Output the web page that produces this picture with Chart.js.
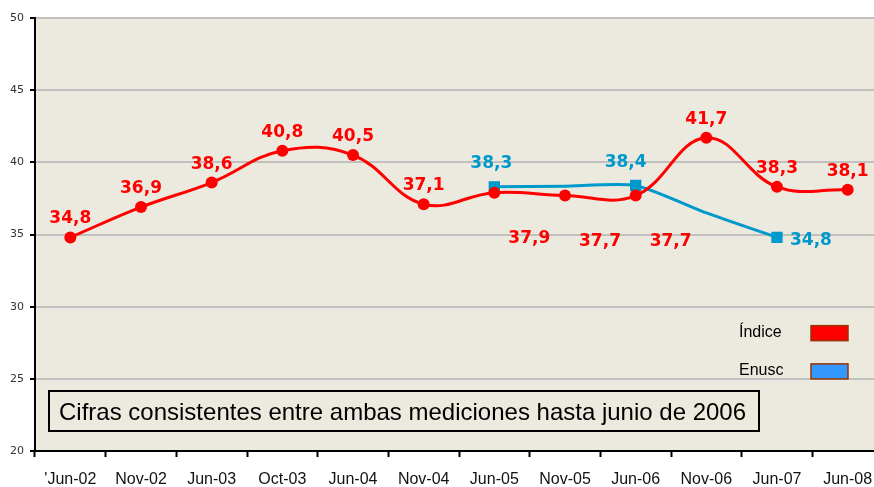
<!DOCTYPE html>
<html>
<head>
<meta charset="utf-8">
<script src="https://cdn.jsdelivr.net/npm/chart.js@4/dist/chart.umd.min.js"></script>
<style>
    html, body { margin: 0; padding: 0; background: #fff; overflow: hidden; }
    #wrap { width: 890px; height: 487px; position: relative; }
</style>
</head>
<body>
<div id="wrap"><canvas id="chart"></canvas></div>
<script>
// categories and series
const periods = ["'Jun-02", 'Nov-02', 'Jun-03', 'Oct-03', 'Jun-04', 'Nov-04',
    'Jun-05', 'Nov-05', 'Jun-06', 'Nov-06', 'Jun-07', 'Jun-08'];
const indiceValues = [34.8, 36.9, 38.6, 40.8, 40.5, 37.1, 37.9, 37.7, 37.7, 41.7, 38.3, 38.1];
const enuscValues = [null, null, null, null, null, null, 38.3, 38.35, 38.4, 36.5, 34.8, null];
const enuscMarked = [false, false, false, false, false, false, true, false, true, false, true, false];
const seriesNames = ['Índice', 'Enusc'];
const yTicks = { min: 20, max: 50, step: 5 };
const noteText = 'Cifras consistentes entre ambas mediciones hasta junio de 2006';

const RED = '#ff0000';
const BLUE = '#0099cc';
const PLOT_BG = '#ece9df';

// where each value label goes relative to its point
const redPlacement = ['above', 'above', 'above', 'above', 'above', 'above',
    'below', 'below', 'below', 'above', 'above', 'above'];

const fmt = v => v.toFixed(1).replace('.', ',');

const plotBackground = {
    id: 'plotBackground',
    beforeDraw(chart) {
        const { ctx, chartArea: a } = chart;
        ctx.save();
        ctx.fillStyle = PLOT_BG;
        ctx.fillRect(a.left, a.top, a.right - a.left, a.bottom - a.top);
        ctx.restore();
    }
};

const valueLabels = {
    id: 'valueLabels',
    afterDatasetsDraw(chart) {
        const ctx = chart.ctx;
        ctx.save();
        ctx.font = 'bold 17px "DejaVu Sans"';
        chart.data.datasets.forEach((ds, di) => {
            const meta = chart.getDatasetMeta(di);
            meta.data.forEach((pt, i) => {
                const v = ds.data[i];
                if (v === null) return;
                if (di === 1 && !enuscMarked[i]) return;
                const text = fmt(v);
                ctx.fillStyle = ds.borderColor;
                let x = pt.x, y = pt.y;
                ctx.textBaseline = 'alphabetic';
                ctx.textAlign = 'center';
                if (di === 0) {
                    if (redPlacement[i] === 'below') {
                        x += 35; y += 50;
                    } else {
                        y -= 14;
                    }
                } else {
                    if (i === 10) {
                        ctx.textAlign = 'left';
                        x += 13; y += 8;
                    } else if (i === 8) {
                        x -= 10; y -= 18;
                    } else {
                        x -= 3; y -= 19;
                    }
                }
                ctx.fillText(text, x, y);
            });
        });
        ctx.restore();
    }
};

const extras = {
    id: 'extras',
    afterDraw(chart) {
        const ctx = chart.ctx;
        const y = chart.scales.y;
        ctx.save();
        // legend inside the plot
        ctx.font = '16px "Liberation Sans"';
        ctx.textBaseline = 'middle';
        ctx.textAlign = 'left';
        const rows = [y.getPixelForValue(28.2), y.getPixelForValue(25.55)];
        seriesNames.forEach((name, i) => {
            ctx.fillStyle = '#000';
            ctx.fillText(name, 739, rows[i]);
            ctx.fillStyle = i === 0 ? RED : '#3399ff';
            ctx.fillRect(811, rows[i] - 7, 37, 15);
            ctx.strokeStyle = '#993300';
            ctx.lineWidth = 1.5;
            ctx.strokeRect(811, rows[i] - 7, 37, 15);
        });
        // note box
        ctx.fillStyle = PLOT_BG;
        ctx.fillRect(49, 391, 710, 40);
        ctx.strokeStyle = '#000';
        ctx.lineWidth = 2;
        ctx.strokeRect(49, 391, 710, 40);
        ctx.fillStyle = '#000';
        ctx.font = '24px "Liberation Sans"';
        ctx.textBaseline = 'alphabetic';
        ctx.fillText(noteText, 59, 420);
        ctx.restore();
    }
};

new Chart(document.getElementById('chart'), {
    type: 'line',
    data: {
        labels: periods,
        datasets: [
            {
                label: seriesNames[0],
                data: indiceValues,
                borderColor: RED,
                backgroundColor: RED,
                borderWidth: 3,
                tension: 0.4,
                pointRadius: 6,
                pointBackgroundColor: RED,
                pointBorderWidth: 0
            },
            {
                label: seriesNames[1],
                data: enuscValues,
                borderColor: BLUE,
                backgroundColor: BLUE,
                borderWidth: 3,
                tension: 0.2,
                spanGaps: true,
                pointStyle: 'rect',
                pointRadius: enuscMarked.map(m => m ? 8 : 0),
                pointBackgroundColor: BLUE,
                pointBorderWidth: 0
            }
        ]
    },
    options: {
        responsive: true,
        maintainAspectRatio: false,
        animation: false,
        events: [],
        layout: { padding: { top: 18, right: 7, left: 0, bottom: 0 } },
        plugins: {
            legend: { display: false },
            tooltip: { enabled: false }
        },
        scales: {
            x: {
                offset: true,
                grid: {
                    offset: true,
                    drawOnChartArea: false,
                    drawTicks: true,
                    tickLength: 6,
                    tickColor: '#000',
                    tickWidth: 2
                },
                border: { color: '#000', width: 2 },
                ticks: {
                    color: '#111',
                    font: { family: 'Liberation Sans', size: 16 },
                    padding: 13,
                    maxRotation: 0,
                    autoSkip: false
                },
                afterFit(scale) { scale.height = 36; }
            },
            y: {
                min: yTicks.min,
                max: yTicks.max,
                ticks: {
                    stepSize: yTicks.step,
                    color: '#333',
                    font: { family: 'DejaVu Sans', size: 11 },
                    padding: 6
                },
                grid: {
                    color: '#c0c0c0',
                    lineWidth: 2,
                    tickColor: '#000',
                    tickLength: 5,
                    tickWidth: 2
                },
                border: { color: '#000', width: 2 },
                afterFit(scale) { scale.width = 35; }
            }
        }
    },
    plugins: [plotBackground, valueLabels, extras]
});
</script>
</body>
</html>
